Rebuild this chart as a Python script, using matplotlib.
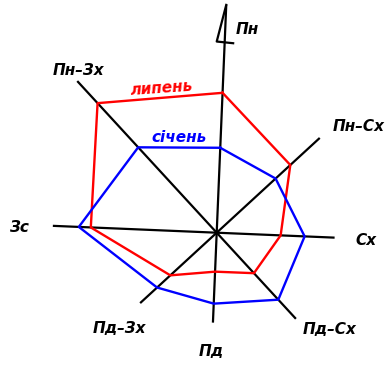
import numpy as np
import matplotlib.pyplot as plt

# румби (за годинниковою стрілкою від півночі)
directions = ['Пн', 'Пн–Сх', 'Сх', 'Пд–Сх', 'Пд', 'Пд–Зх', 'Зс', 'Пн–Зх']
# повторюваність вітрів
july = [14.0, 10.0, 6.4, 5.5, 3.9, 6.3, 12.6, 17.6]
january = [8.5, 8.0, 8.8, 9.1, 7.1, 8.1, 13.8, 11.6]

# довжина променів осей
arm_len = [22.8, 14.0, 11.8, 11.7, 9.0, 10.4, 16.4, 20.6]
rot = 2.4  # поворот рози, градуси за годинниковою

label_xy = [(3.1, 20.3), (14.2, 10.6), (14.9, -0.8), (11.3, -9.7),
            (-0.5, -11.9), (-9.7, -9.6), (-19.8, 0.5), (-13.8, 16.2)]


def to_xy(r, i):
    ang = np.deg2rad(90 - (i * 45 + rot))
    return r * np.cos(ang), r * np.sin(ang)


def along(dist, perp, i):
    # точка в системі координат променя i
    ang = np.deg2rad(90 - (i * 45 + rot))
    ux, uy = np.cos(ang), np.sin(ang)
    px, py = uy, -ux
    return dist * ux + perp * px, dist * uy + perp * py


fig = plt.figure(figsize=(3.9, 3.69), dpi=100)
ax = fig.add_axes([0, 0, 1, 1])

# осі
for i in range(4):
    x1, y1 = to_xy(arm_len[i], i)
    x2, y2 = to_xy(arm_len[i + 4], i + 4)
    ax.plot([x1, x2], [y1, y2], color='black', lw=1.6, solid_capstyle='butt')

# стрілка на півночі
pts = [along(arm_len[0], 0, 0), along(19.1, -0.8, 0), along(19.0, 0.85, 0)]
ax.plot([p[0] for p in pts], [p[1] for p in pts], color='black', lw=1.6)

for vals, col in [(july, 'red'), (january, 'blue')]:
    xs, ys = [], []
    for i, v in enumerate(vals + vals[:1]):
        x, y = to_xy(v, i % 8)
        xs.append(x)
        ys.append(y)
    ax.plot(xs, ys, color=col, lw=1.7)

font = dict(fontsize=11, fontweight='bold', fontstyle='italic', ha='center', va='center')
for name, (x, y) in zip(directions, label_xy):
    ax.text(x, y, name, color='black', **font)

ax.text(-5.5, 14.4, 'липень', color='red', rotation=4, **font)
ax.text(-3.8, 9.5, 'січень', color='blue', **font)

ax.set_xlim(-21.67, 17.33)
ax.set_ylim(-13.63, 23.27)
ax.set_aspect('equal')
ax.axis('off')

fig.savefig('out.png', dpi=100)
